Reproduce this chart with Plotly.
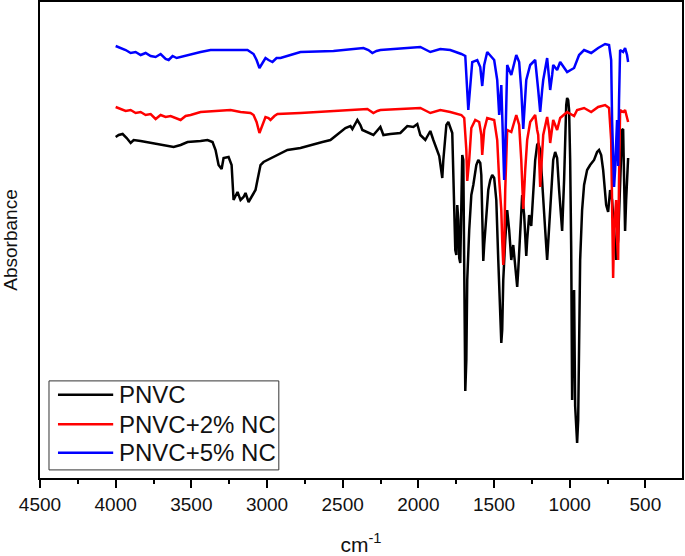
import plotly.graph_objects as go

# ---- data (wavenumber cm-1, absorbance a.u.) ----
wn_pnvc = [4000,3980,3954,3927,3901,3881,3835,3769,3703,3617,
           3571,3525,3439,3393,3360,3340,3320,3300,3287,3254,
           3234,3221,3195,3175,3155,3142,3122,3096,3076,3063,
           3043,3023,2997,2957,2911,2865,2779,2693,2634,2581,
           2515,2482,2449,2436,2403,2383,2370,2337,2297,2251,
           2231,2185,2119,2073,2033,2007,1987,1954,1921,1901,
           1875,1862,1842,1835,1815,1802,1776,
           1763,1756,1749,1743,1736,1730,1723,1716,1710,1703,
           1697,1690,1683,1677,1664,1650,1637,1617,1604,1591,
           1584,1578,1571,1565,1551,1538,1525,1512,1499,1485,
           1472,1459,1452,1446,1439,1426,1413,1400,1386,1373,
           1360,1347,1340,1327,1320,1314,1301,1287,1281,1268,
           1254,1241,1228,1215,1208,1195,1182,1162,1149,1136,
           1122,1109,1096,1083,1070,1056,1050,1037,1030,1023,
           1017,1010,1004,997,990,984,977,971,964,957,
           951,944,938,931,918,905,885,865,839,819,
           806,792,779,766,759,746,733,720,707,693,
           680,667,654,647,641,634,627,614]
abs_pnvc = [3.41,3.43,3.44,3.40,3.35,3.38,3.37,3.35,3.33,3.31,
            3.33,3.36,3.37,3.38,3.36,3.28,3.13,3.09,3.20,3.21,
            3.13,2.78,2.86,2.78,2.81,2.85,2.76,2.83,2.88,2.98,
            3.13,3.16,3.18,3.21,3.25,3.28,3.30,3.34,3.36,3.38,
            3.46,3.50,3.52,3.49,3.58,3.53,3.48,3.46,3.43,3.51,
            3.43,3.44,3.45,3.52,3.51,3.54,3.43,3.38,3.47,3.38,
            3.28,3.22,3.00,3.18,3.53,3.56,3.45,
            2.78,2.28,2.23,2.73,2.58,2.20,2.15,2.78,3.23,3.18,
            2.28,0.87,1.18,1.98,2.48,2.83,2.93,3.13,3.18,3.15,
            3.03,2.48,2.17,2.33,2.63,2.88,2.98,3.03,3.00,2.78,
            2.18,1.58,1.35,1.48,1.98,2.38,2.68,2.48,2.18,2.33,
            2.08,1.91,2.08,2.48,2.73,2.83,2.63,2.22,2.38,2.63,
            2.52,2.88,3.18,3.33,3.35,3.28,2.93,2.48,2.18,2.48,
            2.88,3.18,3.26,3.20,2.88,2.53,2.47,2.98,3.48,3.73,
            3.80,3.78,3.68,3.18,2.28,0.78,1.78,1.88,0.72,0.48,
            0.35,0.58,1.28,2.18,2.68,2.93,3.08,3.13,3.18,3.26,
            3.28,3.23,3.08,2.88,2.73,2.66,2.88,2.78,2.48,2.18,
            2.38,2.98,3.48,3.49,2.78,2.47,2.78,3.20]

wn_nc2 = [4000,3967,3934,3901,3868,3835,3802,3769,3736,3703,3670,3637,3604,3571,3538,3505,
          3439,3340,3241,3175,3109,3089,3069,3050,3030,3010,
          2990,2977,2951,2931,2779,2515,2337,2317,2297,2271,
          2251,1987,1921,1855,1789,1716,1697,1683,1677,1664,
          1650,1624,1598,1584,1578,1565,1545,1499,1479,1466,
          1452,1446,1439,1433,1426,1413,1386,1353,1334,1320,
          1307,1294,1281,1261,1228,1215,1208,1195,1182,1175,
          1149,1136,1129,1116,1109,1083,1063,1017,971,951,
          905,858,812,766,740,726,720,713,707,693,
          687,680,674,667,647,634,614]
abs_nc2 = [3.71,3.69,3.67,3.68,3.65,3.66,3.63,3.64,3.59,3.63,3.61,3.62,3.60,3.58,3.62,3.63,
           3.66,3.67,3.68,3.66,3.65,3.63,3.56,3.45,3.53,3.61,
           3.60,3.58,3.62,3.64,3.65,3.67,3.69,3.67,3.65,3.67,
           3.68,3.70,3.65,3.68,3.66,3.63,3.60,3.28,2.97,3.18,
           3.50,3.58,3.56,3.43,3.23,3.48,3.60,3.58,3.38,2.98,
           2.68,2.38,2.13,2.28,2.88,3.48,3.46,3.63,3.53,3.18,
           2.69,3.08,3.38,3.56,3.63,3.48,3.43,2.91,3.28,3.43,
           3.61,3.48,3.35,3.48,3.58,3.48,3.60,3.66,3.62,3.68,
           3.70,3.66,3.71,3.73,3.70,3.38,2.78,2.00,2.48,2.78,
           2.38,2.18,2.98,3.68,3.66,3.68,3.56]

wn_nc5 = [4000,3967,3934,3901,3868,3835,3802,3769,3736,3703,3670,3650,3624,3597,3571,3538,3505,
          3439,3373,3241,3129,3089,3069,3050,3030,3010,2990,2964,2937,2911,2845,2779,
          2561,2363,2330,2304,2277,2251,1987,1921,1855,1789,
          1716,1690,1670,1657,1644,1611,1591,1578,1565,1545,
          1499,1479,1466,1452,1439,1433,1426,1413,1386,1353,
          1334,1320,1307,1294,1287,1261,1228,1208,1195,1182,
          1175,1149,1136,1129,1116,1109,1083,1063,1017,971,
          938,905,858,812,766,740,726,720,707,700,
          687,680,674,667,647,634,621,614]
abs_nc5 = [4.32,4.30,4.28,4.25,4.26,4.23,4.25,4.22,4.21,4.24,4.19,4.18,4.22,4.20,4.21,4.22,4.24,
           4.26,4.28,4.28,4.28,4.24,4.18,4.10,4.15,4.20,4.18,4.16,4.20,4.20,4.23,4.26,
           4.27,4.30,4.28,4.25,4.27,4.28,4.31,4.26,4.29,4.28,
           4.24,4.22,3.68,3.93,4.16,4.18,4.11,3.92,4.13,4.26,
           4.18,3.98,3.63,3.93,3.38,2.98,3.28,4.13,4.03,4.23,
           4.16,3.88,3.49,3.83,3.98,4.13,4.18,3.88,3.66,3.88,
           3.98,4.20,4.03,3.88,4.03,4.13,4.08,4.16,4.06,4.10,
           4.23,4.28,4.25,4.30,4.34,4.33,4.18,3.58,2.91,3.08,
           3.58,3.12,3.78,4.28,4.26,4.30,4.23,4.16]

series_names = ["PNVC", "PNVC+2% NC", "PNVC+5% NC"]
series_colors = ["#000000", "#ff0000", "#0000ff"]
x_ticks = [4500, 4000, 3500, 3000, 2500, 2000, 1500, 1000, 500]

FONT = "Liberation Sans, Arial, sans-serif"

fig = go.Figure()
for name, color, xs, ys in zip(series_names, series_colors,
                               [wn_pnvc, wn_nc2, wn_nc5],
                               [abs_pnvc, abs_nc2, abs_nc5]):
    fig.add_trace(go.Scatter(x=xs, y=ys, mode="lines", name=name,
                             line=dict(color=color, width=2.5),
                             showlegend=False))

fig.update_layout(
    width=685, height=556,
    margin=dict(l=40, r=3, t=2, b=78, autoexpand=False),
    paper_bgcolor="white", plot_bgcolor="white",
    font=dict(family=FONT, color="#111"),
    showlegend=False,
)
fig.update_xaxes(
    range=[4500, 258], autorange=False, automargin=False,
    tickmode="array", tickvals=x_ticks, ticktext=[str(v) for v in x_ticks],
    ticks="outside", ticklen=8, tickwidth=1.5, tickcolor="#000",
    minor=dict(dtick=250, tick0=0, ticks="outside", ticklen=4, tickwidth=1.5, tickcolor="#000"),
    showline=True, linecolor="#000", linewidth=1.5, mirror=True,
    showgrid=False, zeroline=False,
    tickfont=dict(size=19, family=FONT, color="#111"),
    title=dict(text="cm<sup>-1</sup>", font=dict(size=21, family=FONT, color="#111"), standoff=24),
)
fig.update_yaxes(
    range=[0, 4.76], autorange=False, automargin=False,
    showticklabels=False, ticks="",
    showline=True, linecolor="#000", linewidth=1.5, mirror=True,
    showgrid=False, zeroline=False,
    title=dict(text="Absorbance", font=dict(size=19, family=FONT, color="#111"), standoff=17),
)

# ---- legend box drawn in plot-area (paper) coordinates ----
fig.add_shape(type="rect", xref="paper", yref="paper",
              x0=0.014, x1=0.372, y0=0.017, y1=0.204,
              line=dict(color="#333", width=1), fillcolor="white", layer="above")
row_y = [0.175, 0.113, 0.053]
for name, color, yy in zip(series_names, series_colors, row_y):
    fig.add_shape(type="line", xref="paper", yref="paper",
                  x0=0.028, x1=0.114, y0=yy, y1=yy,
                  line=dict(color=color, width=2.5), layer="above")
    fig.add_annotation(xref="paper", yref="paper", x=0.12, y=yy,
                       xanchor="left", yanchor="middle", showarrow=False,
                       text=name, font=dict(size=24, family=FONT, color="#111"))

fig.write_html("out.html",
               config={"displayModeBar": False},
               post_script="document.body.style.margin='0';document.body.style.overflow='hidden';")
